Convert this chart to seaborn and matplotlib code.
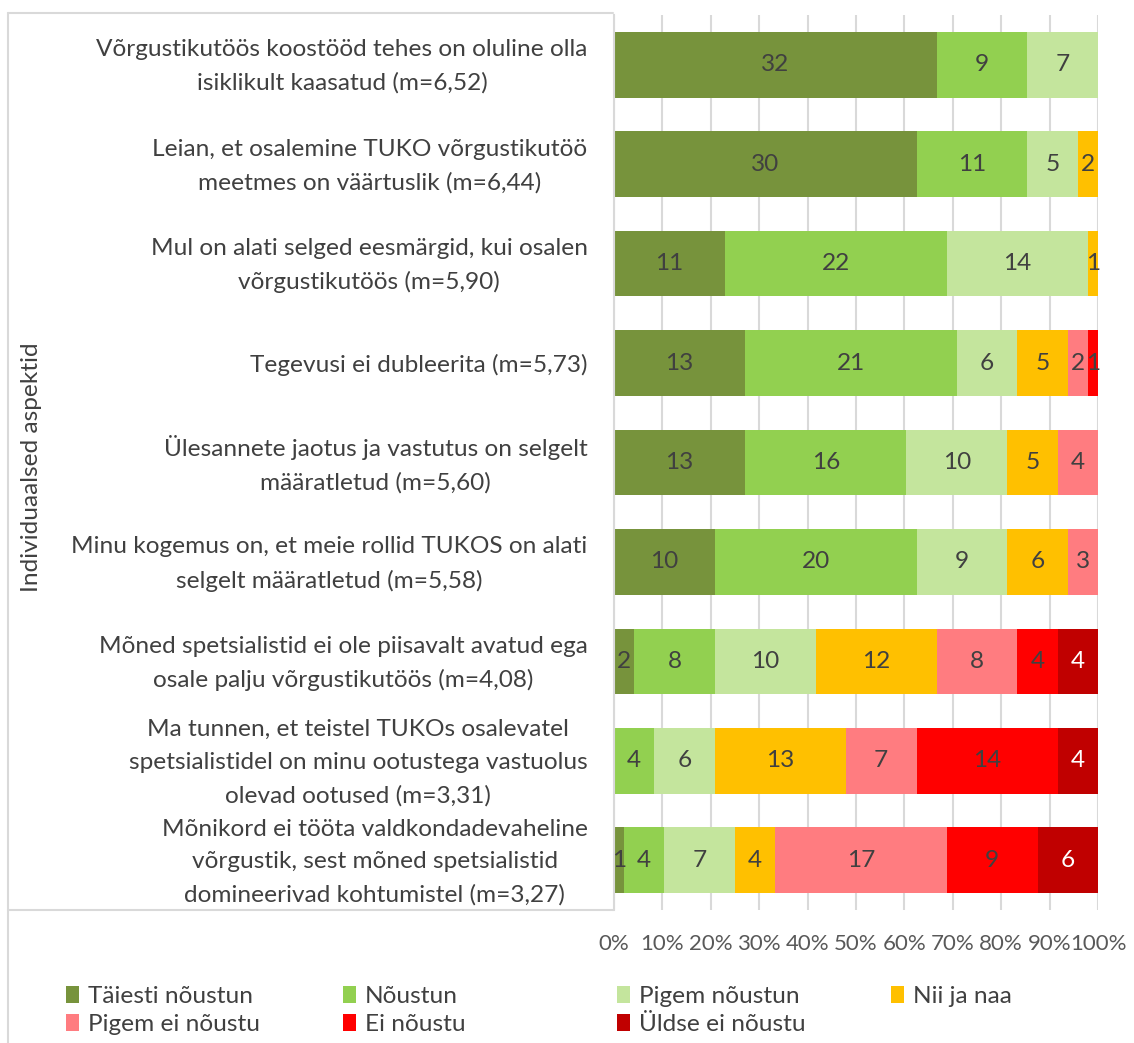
import matplotlib
matplotlib.use("Agg")
import matplotlib.pyplot as plt
import seaborn as sns
import numpy as np
import pandas as pd
from matplotlib.patches import Patch
from matplotlib.lines import Line2D
from matplotlib.transforms import ScaledTranslation

questions = [
    "Võrgustikutöös koostööd tehes on oluline olla\nisiklikult kaasatud (m=6,52)",
    "Leian, et osalemine TUKO võrgustikutöö\nmeetmes on väärtuslik (m=6,44)",
    "Mul on alati selged eesmärgid, kui osalen\nvõrgustikutöös (m=5,90)",
    "Tegevusi ei dubleerita (m=5,73)",
    "Ülesannete jaotus ja vastutus on selgelt\nmääratletud (m=5,60)",
    "Minu kogemus on, et meie rollid TUKOS on alati\nselgelt määratletud (m=5,58)",
    "Mõned spetsialistid ei ole piisavalt avatud ega\nosale palju võrgustikutöös (m=4,08)",
    "Ma tunnen, et teistel TUKOs osalevatel\nspetsialistidel on minu ootustega vastuolus\nolevad ootused (m=3,31)",
    "Mõnikord ei tööta valdkondadevaheline\nvõrgustik, sest mõned spetsialistid\ndomineerivad kohtumistel (m=3,27)",
]

categories = ["Täiesti nõustun", "Nõustun", "Pigem nõustun", "Nii ja naa",
              "Pigem ei nõustu", "Ei nõustu", "Üldse ei nõustu"]

taiesti_noustun = [32, 30, 11, 13, 13, 10, 2, 0, 1]
noustun = [9, 11, 22, 21, 16, 20, 8, 4, 4]
pigem_noustun = [7, 5, 14, 6, 10, 9, 10, 6, 7]
nii_ja_naa = [0, 2, 1, 5, 5, 6, 12, 13, 4]
pigem_ei_noustu = [0, 0, 0, 2, 4, 3, 8, 7, 17]
ei_noustu = [0, 0, 0, 1, 0, 0, 4, 14, 9]
uldse_ei_noustu = [0, 0, 0, 0, 0, 0, 4, 4, 6]

x_ticks = list(range(0, 101, 10))
x_tick_labels = [f"{v}%" for v in x_ticks]

colors = ["#77933C", "#92D050", "#C4E59D", "#FFC000", "#FF7C80", "#FF0000", "#C00000"]
text_colors = ["#404040"] * 6 + ["#FFFFFF"]

series = [taiesti_noustun, noustun, pigem_noustun, nii_ja_naa,
          pigem_ei_noustu, ei_noustu, uldse_ei_noustu]
counts = pd.DataFrame(np.array(series).T, columns=categories)
counts["question"] = questions
totals = counts[categories].sum(axis=1)
pct = counts[categories].div(totals, axis=0) * 100
cum = pct.cumsum(axis=1)

sns.set_style("white")
plt.rcParams["font.family"] = ["Lato", "DejaVu Sans"]
FS = 17.6

W, H = 1134, 1043
fig = plt.figure(figsize=(W / 100, H / 100), dpi=100)
ax_left, ax_right, ax_top, ax_bottom = 614, 1098, 15, 910
ax = fig.add_axes([ax_left / W, (H - ax_bottom) / H,
                   (ax_right - ax_left) / W, (ax_bottom - ax_top) / H])

# stacked bars: draw cumulative totals from the last category back to the first
for j in range(len(categories) - 1, -1, -1):
    sns.barplot(x=cum[categories[j]].values, y=questions, orient="h",
                color=colors[j], saturation=1, width=0.66, linewidth=0, ax=ax)

# value labels
for i in range(len(questions)):
    for j, cat in enumerate(categories):
        v = counts.loc[i, cat]
        if v > 0:
            xc = cum.loc[i, cat] - pct.loc[i, cat] / 2
            ax.text(xc, i, str(v), ha="center", va="center",
                    fontsize=FS, color=text_colors[j])

ax.set_xlim(0, 100)
ax.set_ylim(len(questions) - 0.5, -0.5)
ax.set_xticks(x_ticks)
ax.set_xticklabels(x_tick_labels)
ax.xaxis.grid(True, color="#D9D9D9", linewidth=1.5)
ax.yaxis.grid(False)
ax.set_axisbelow(True)
for s in ["top", "right", "bottom"]:
    ax.spines[s].set_visible(False)
ax.spines["left"].set_color("#D9D9D9")
ax.spines["left"].set_linewidth(1.5)
ax.tick_params(axis="x", length=0, pad=17, labelsize=16, labelcolor="#595959")
ax.tick_params(axis="y", length=0, pad=19, labelsize=FS, labelcolor="#404040")
for t in ax.get_yticklabels():
    t.set_multialignment("center")
    t.set_linespacing(1.68)
    if "\n" in t.get_text():
        t.set_transform(t.get_transform() +
                        ScaledTranslation(0, 6 / 100, fig.dpi_scale_trans))
ax.set_xlabel("")
ax.set_ylabel("Individuaalsed aspektid", fontsize=FS, color="#404040")
ax.yaxis.set_label_coords((42 - ax_left) / (ax_right - ax_left), 0.495)

# frame lines around the category area
lc = "#D9D9D9"
fig.add_artist(Line2D([8 / W, 8 / W], [1 - 13 / H, 0], color=lc, lw=1.5,
                      transform=fig.transFigure))
fig.add_artist(Line2D([8 / W, 613 / W], [1 - 13 / H, 1 - 13 / H], color=lc, lw=1.5,
                      transform=fig.transFigure))
fig.add_artist(Line2D([8 / W, 613 / W], [1 - 910 / H, 1 - 910 / H], color=lc, lw=1.5,
                      transform=fig.transFigure))

# legend: 4 columns, 2 rows
handles = [Patch(facecolor=c, edgecolor="none") for c in colors]
col_x = [66, 343, 617, 891]
for k, x in enumerate(col_x):
    idx = [k, k + 4] if k + 4 < len(categories) else [k]
    fig.legend([handles[i] for i in idx], [categories[i] for i in idx],
               loc="upper left", bbox_to_anchor=(x / W, 1 - 986 / H),
               frameon=False, fontsize=FS, labelcolor="#404040",
               handlelength=0.55, handleheight=0.7, handletextpad=0.35,
               borderpad=0, borderaxespad=0, labelspacing=0.28)

fig.savefig("out.png", dpi=100, facecolor="white")
